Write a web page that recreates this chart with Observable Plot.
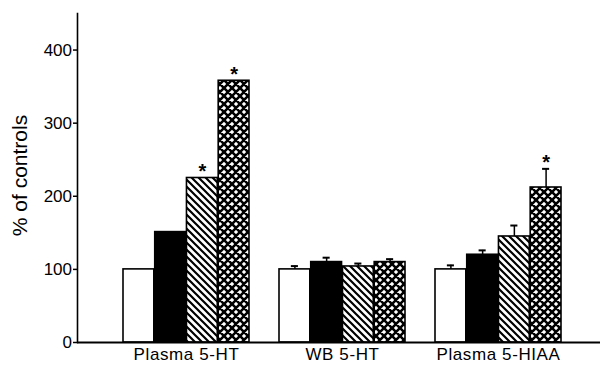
<!DOCTYPE html>
<html><head><meta charset="utf-8">
<script src="https://cdn.jsdelivr.net/npm/d3@7"></script>
<script src="https://cdn.jsdelivr.net/npm/@observablehq/plot@0.6"></script>
<style>
body{margin:0;background:#fff}
#chart svg{display:block}
g[aria-label="x-axis tick label"] text{letter-spacing:0.6px}
</style>
</head><body><div id="chart"></div><script>
// ---- data ----
const groups = ["Plasma 5-HT", "WB 5-HT", "Plasma 5-HIAA"];
const series = ["Series 1", "Series 2", "Series 3", "Series 4"];
const values1 = [100, 100, 100];
const values2 = [151, 110, 120];
const values3 = [225, 104, 145];
const values4 = [358, 110, 212];
const errors1 = [0, 4.5, 5.5];
const errors2 = [0, 6, 6];
const errors3 = [0, 4, 15];
const errors4 = [0, 4, 25.5];
const stars1 = [false, false, false];
const stars2 = [false, false, false];
const stars3 = [true, false, false];
const stars4 = [true, false, true];
const yTicks = [0, 100, 200, 300, 400];

const allValues = [values1, values2, values3, values4];
const allErrors = [errors1, errors2, errors3, errors4];
const allStars = [stars1, stars2, stars3, stars4];
const rows = [];
series.forEach((s, i) => groups.forEach((g, j) => rows.push({
  series: s, si: i, group: g, value: allValues[i][j], err: allErrors[i][j], star: allStars[i][j]
})));

// ---- layout ----
const W = 600, H = 365;
const xRange = [90.6, 593.6], pIn = 0.19, pOut = 0.2;
const step = (xRange[1] - xRange[0]) / (groups.length - pIn + 2 * pOut);
const bw = step * (1 - pIn);
const sub = bw / series.length;
const capW = 8;
const fills = ["white", "black", "url(#hatch)", "url(#cross)"];

const marks = [];
series.forEach((s, i) => {
  const data = rows.filter(d => d.si === i);
  marks.push(Plot.barY(data, {
    x: "group", y: "value", fill: fills[i], stroke: "black", strokeWidth: 1.6,
    insetLeft: i * sub, insetRight: (series.length - 1 - i) * sub
  }));
  const withErr = data.filter(d => d.err > 0);
  const off = (i - (series.length - 1) / 2) * sub;
  marks.push(Plot.ruleX(withErr, {
    x: "group", y1: "value", y2: d => d.value + d.err, dx: off, stroke: "black", strokeWidth: 1.5
  }));
  marks.push(Plot.tickY(withErr, {
    x: "group", y: d => d.value + d.err, stroke: "black", strokeWidth: 2,
    insetLeft: i * sub + (sub - capW) / 2, insetRight: (series.length - 1 - i) * sub + (sub - capW) / 2
  }));
  marks.push(Plot.text(data.filter(d => d.star), {
    x: "group", y: d => d.value + d.err, text: () => "*", dx: off, dy: -6,
    fontSize: 20, fontWeight: "bold", fill: "black"
  }));
});

const plot = Plot.plot({
  width: W, height: H,
  marginTop: 13, marginBottom: 23, marginLeft: 77, marginRight: 0,
  style: {fontFamily: "'Liberation Sans', Arial, Helvetica, sans-serif", color: "black", background: "white"},
  x: {type: "band", domain: groups, range: xRange, paddingInner: pIn, paddingOuter: pOut},
  y: {domain: [0, 450]},
  marks: [
    ...marks,
    Plot.ruleY([0], {stroke: "black", strokeWidth: 2}),
    Plot.frame({anchor: "left", stroke: "black", strokeWidth: 1.6}),
    Plot.axisY({ticks: yTicks, tickSize: 4, tickPadding: 1.5, fontSize: 17, label: null, strokeWidth: 1.5}),
    Plot.axisX({tickSize: 0, tickPadding: 5, fontSize: 17, label: null}),
    Plot.text(["% of controls"], {text: d => d, frameAnchor: "left", textAnchor: "middle", dx: -57.5, dy: -2.5, rotate: -90, fontSize: 21, fill: "black"})
  ]
});

plot.insertAdjacentHTML("afterbegin", `<defs>
<pattern id="hatch" patternUnits="userSpaceOnUse" width="7" height="7">
<rect width="7" height="7" fill="white"/>
<path d="M-1,-1L8,8M6,-1L8,1M-1,6L1,8" stroke="black" stroke-width="2.2"/>
</pattern>
<pattern id="cross" patternUnits="userSpaceOnUse" width="8" height="8">
<rect width="8" height="8" fill="white"/>
<path d="M-1,-1L9,9M7,-1L9,1M-1,7L1,9M-1,9L9,-1M-1,1L1,-1M7,9L9,7" stroke="black" stroke-width="2.6"/>
</pattern>
</defs>`);
document.getElementById("chart").appendChild(plot);
</script></body></html>
